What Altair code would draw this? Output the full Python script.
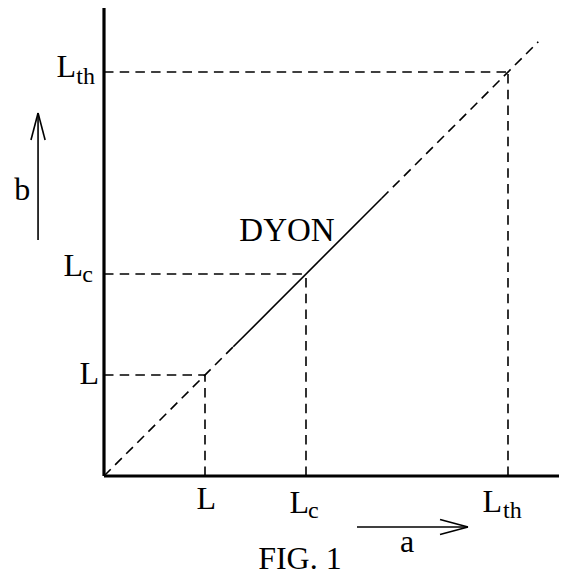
import altair as alt
import pandas as pd

# ---- values ----
level_names = ["L", "Lc", "Lth"]
level_main = ["L", "L", "L"]
level_sub = ["", "c", "th"]
level_values = [1.0, 2.0, 4.0]

x_max = 4.505
y_max = 4.634

diag_dashed_low = [0.0, 1.28]
diag_solid = [1.28, 2.75]
diag_dashed_high = [2.75, 4.30]

# arrow for "b" (vertical) and for "a" (horizontal)
b_arrow_x = -0.653
b_arrow_y = [2.337, 3.594]
b_head_dx = 0.07
b_head_y = 3.327
a_arrow_y = -0.505
a_arrow_x = [2.505, 3.604]
a_head_dy = 0.074
a_head_x = 3.327

annotations = ["DYON", "a", "b", "FIG. 1"]
annot_x = [1.34, 3.0, -0.81, 1.94]
annot_y = [2.33, -0.755, 2.73, -0.925]

# ---- tables built from the values ----
def seg(x, y, x2, y2):
    return {"x": x, "y": y, "x2": x2, "y2": y2}

axes_df = pd.DataFrame([seg(0, 0, x_max, 0), seg(0, 0, 0, y_max)])

guide_rows = []
for v in level_values:
    guide_rows.append(seg(0, v, v, v))
    guide_rows.append(seg(v, 0, v, v))
guide_rows.append(seg(diag_dashed_low[0], diag_dashed_low[0], diag_dashed_low[1], diag_dashed_low[1]))
guide_rows.append(seg(diag_dashed_high[0], diag_dashed_high[0], diag_dashed_high[1], diag_dashed_high[1]))
dashed_df = pd.DataFrame(guide_rows)

solid_rows = [seg(diag_solid[0], diag_solid[0], diag_solid[1], diag_solid[1])]
# b arrow
solid_rows.append(seg(b_arrow_x, b_arrow_y[0], b_arrow_x, b_arrow_y[1]))
solid_rows.append(seg(b_arrow_x - b_head_dx, b_head_y, b_arrow_x, b_arrow_y[1]))
solid_rows.append(seg(b_arrow_x + b_head_dx, b_head_y, b_arrow_x, b_arrow_y[1]))
# a arrow
solid_rows.append(seg(a_arrow_x[0], a_arrow_y, a_arrow_x[1], a_arrow_y))
solid_rows.append(seg(a_head_x, a_arrow_y + a_head_dy, a_arrow_x[1], a_arrow_y))
solid_rows.append(seg(a_head_x, a_arrow_y - a_head_dy, a_arrow_x[1], a_arrow_y))
solid_df = pd.DataFrame(solid_rows)

labels_df = pd.DataFrame({
    "name": level_names,
    "main": level_main,
    "sub": level_sub,
    "value": level_values,
    "zero": [0.0] * len(level_values),
})

annot_df = pd.DataFrame({"text": annotations, "x": annot_x, "y": annot_y})

XS = alt.Scale(domain=[0, x_max], nice=False, zero=False)
YS = alt.Scale(domain=[0, y_max], nice=False, zero=False)

FONT = "Liberation Serif"
MAIN = 32
SUB = 24


def rules(df, width, dash=None):
    kw = dict(color="black", strokeWidth=width, strokeCap="butt")
    if dash:
        kw["strokeDash"] = dash
    return alt.Chart(df).mark_rule(**kw).encode(
        x=alt.X("x:Q", scale=XS, axis=None),
        y=alt.Y("y:Q", scale=YS, axis=None),
        x2="x2:Q",
        y2="y2:Q",
    )


layers = [
    rules(dashed_df, 1.6, [9.5, 6.2]),
    rules(solid_df, 1.6),
    rules(axes_df, 3.2),
]

# (name, field, where, align, dx, dy, size)
label_specs = [
    ("L", "main", "bottom", "right", 11, 33, MAIN),
    ("Lc", "main", "bottom", "right", 3, 37, MAIN),
    ("Lc", "sub", "bottom", "left", 2, 42, SUB),
    ("Lth", "main", "bottom", "right", -6, 36, MAIN),
    ("Lth", "sub", "bottom", "left", -5, 42, SUB),
    ("L", "main", "left", "right", -5, 9, MAIN),
    ("Lc", "main", "left", "right", -21, 2, MAIN),
    ("Lc", "sub", "left", "right", -11, 8, SUB),
    ("Lth", "main", "left", "right", -28, 5, MAIN),
    ("Lth", "sub", "left", "right", -9, 12, SUB),
]

for name, field, where, align, dx, dy, size in label_specs:
    if where == "bottom":
        xe, ye = "value:Q", "zero:Q"
    else:
        xe, ye = "zero:Q", "value:Q"
    layers.append(
        alt.Chart(labels_df)
        .transform_filter(alt.datum.name == name)
        .mark_text(font=FONT, fontSize=size, color="black", align=align,
                   baseline="alphabetic", dx=dx, dy=dy)
        .encode(
            x=alt.X(xe, scale=XS, axis=None),
            y=alt.Y(ye, scale=YS, axis=None),
            text=f"{field}:N",
        )
    )

annot_align = {"DYON": "left", "a": "center", "b": "center", "FIG. 1": "center"}
for t in annotations:
    layers.append(
        alt.Chart(annot_df)
        .transform_filter(alt.datum.text == t)
        .mark_text(font=FONT, fontSize=MAIN + (1 if t == "DYON" else 0), color="black",
                   align=annot_align[t], baseline="alphabetic")
        .encode(
            x=alt.X("x:Q", scale=XS, axis=None),
            y=alt.Y("y:Q", scale=YS, axis=None),
            text="text:N",
        )
    )

chart = (
    alt.layer(*layers)
    .properties(
        width=455,
        height=468,
        padding={"left": 96, "top": 0, "right": 0, "bottom": 100},
        autosize=alt.AutoSizeParams(type="none"),
        background="white",
    )
    .configure_view(stroke=None)
)

chart.save("out.html", embed_options={"renderer": "svg", "actions": False})
